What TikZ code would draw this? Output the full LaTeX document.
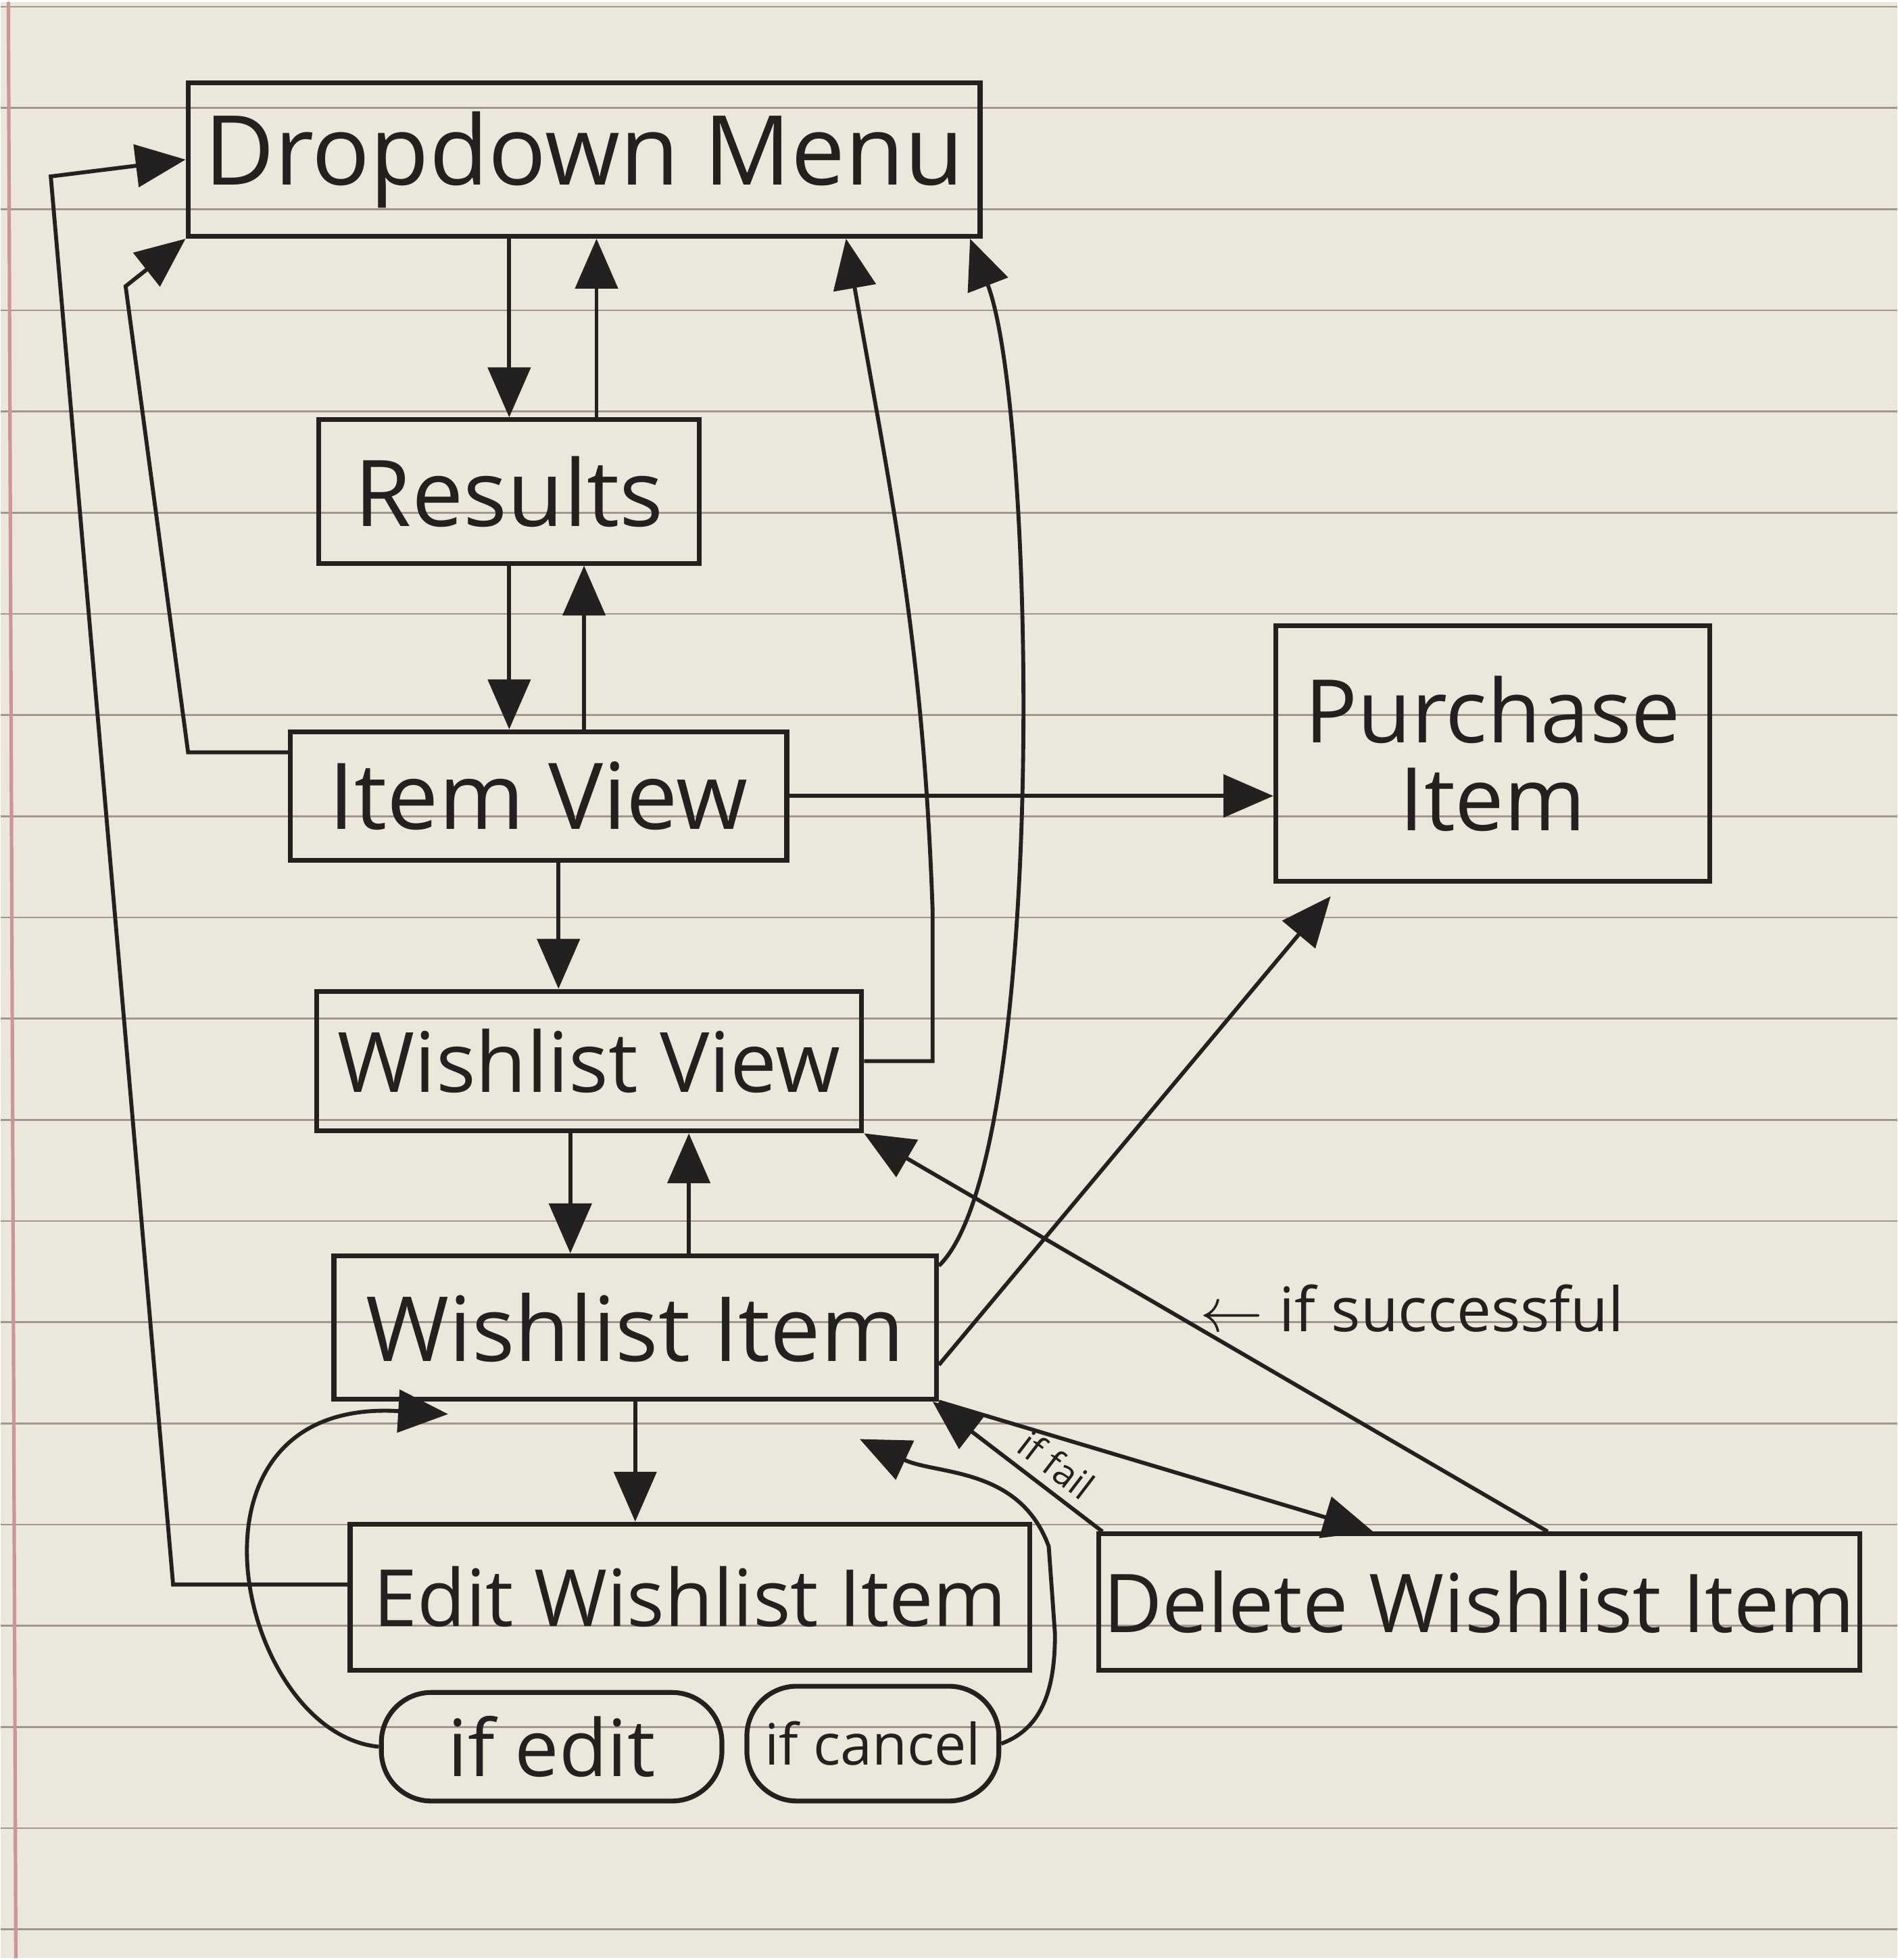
\documentclass[tikz,border=0pt]{standalone}
\usepackage{fontspec}
\setmainfont{Open Sans}
\usetikzlibrary{arrows.meta}

\definecolor{paper}{RGB}{236,231,219}
\definecolor{rule}{RGB}{160,150,145}
\definecolor{margin}{RGB}{205,150,150}
\definecolor{ink}{RGB}{35,32,32}

\begin{document}
\begin{tikzpicture}[
  box/.style={draw=ink, line width=1.1pt, inner sep=0pt, text=ink},
  oval/.style={box, rounded corners=0.4cm},
  txt/.style={font=\fontsize{#1pt}{#1pt}\selectfont},
  arr/.style={draw=ink, line width=0.9pt, -{Triangle[length=4mm,width=3.4mm]}}
]
% lined paper
\fill[paper] (0,0) rectangle (15.2,15.68);
\foreach \k in {0,...,19}
  \draw[rule, line width=0.4pt] (0,15.64-0.811*\k) -- (15.2,15.64-0.811*\k);
\draw[margin, line width=0.8pt] (0.06,15.68) -- (0.12,0);
\useasboundingbox (0,0) rectangle (15.2,15.68);

% screens
\node[box, txt=22, minimum width=6.35cm, minimum height=1.23cm] (drop) at (4.675,14.415) {Dropdown Menu};
\node[box, txt=21, minimum width=3.05cm, minimum height=1.15cm] (results) at (4.075,11.755) {Results};
\node[box, txt=21, minimum width=3.98cm, minimum height=1.03cm] (itemview) at (4.31,9.315) {Item View};
\node[box, txt=20, minimum width=3.48cm, minimum height=2.05cm, align=center] (purchase) at (11.96,9.655) {Purchase\\Item};
\node[box, txt=19, minimum width=4.37cm, minimum height=1.12cm] (wlview) at (4.715,7.19) {Wishlist View};
\node[box, txt=20.5, minimum width=4.83cm, minimum height=1.15cm] (wlitem) at (5.085,5.055) {Wishlist Item};
\node[box, txt=18, minimum width=5.45cm, minimum height=1.17cm] (edit) at (5.525,2.895) {Edit Wishlist Item};
\node[box, txt=18.5, minimum width=6.1cm, minimum height=1.09cm] (delete) at (11.85,2.855) {Delete Wishlist Item};
\node[oval, txt=18, minimum width=2.73cm, minimum height=0.87cm] (ifedit) at (4.415,1.695) {if edit};
\node[oval, txt=13, minimum width=2.02cm, minimum height=0.92cm] (ifcancel) at (6.99,1.72) {if cancel};

% flow
\draw[arr] (drop.south -| results.north) -- (results.north);
\draw[arr] ([xshift=7mm]results.north) -- ([xshift=7mm]results.north |- drop.south);
\draw[arr] (results.south) -- (results.south |- itemview.north);
\draw[arr] ([xshift=6mm]results.south |- itemview.north) -- ([xshift=6mm]results.south);
\draw[arr] ([yshift=3.5mm]itemview.west) -- ++(-0.8,0) -- (1.0,13.4) -- (drop.south west);
\draw[arr] (itemview.east) -- (itemview.east -| purchase.west);
\draw[arr] ([xshift=1.6mm]itemview.south) -- ([xshift=1.6mm]itemview.south |- wlview.north);
\draw[arr] (wlview.east) -- ++(0.55,0) -- ++(0,1.2) to[out=92,in=-80] ([xshift=21mm]drop.south);
\draw[arr] ([xshift=-1.5mm]wlview.south) -- ([xshift=-1.5mm]wlview.south |- wlitem.north);
\draw[arr] ([xshift=8mm]wlview.south |- wlitem.north) -- ([xshift=8mm]wlview.south);
\draw[arr] ([yshift=-1mm]wlitem.north east) .. controls (8.4,6.4) and (8.3,12.4) .. ([xshift=-1mm]drop.south east);
\draw[arr] ([yshift=-3mm]wlitem.east) -- ([xshift=-13mm,yshift=-1mm]purchase.south);
\draw[arr] (wlitem.south) -- (wlitem.south |- edit.north);
\draw[arr] (wlitem.south east) -- ([xshift=-8.5mm]delete.north);
\draw[arr] ([xshift=5.5mm]delete.north) -- node[pos=0.56, anchor=west, xshift=1.5mm, txt=14, text=ink] {$\leftarrow$ if successful} (wlview.south east);
\draw[arr] ([xshift=0.5mm]delete.north west) -- node[pos=0.36, sloped, above=1.5pt, inner sep=0.5pt, txt=8.5, text=ink] {if fail} ([xshift=-0.5mm]wlitem.south east);
\draw[arr] ([yshift=1mm]edit.west) -- ++(-1.4,0) -- (0.4,14.28) -- (drop.west);
\draw[arr] (ifedit.west) .. controls (1.9,1.8) and (1.3,4.5) .. ([xshift=-15mm,yshift=-1mm]wlitem.south);
\draw[arr] (ifcancel.east) to[out=20,in=-90] (8.45,2.6) -- (8.4,3.3) to[out=110,in=-25] ([xshift=18mm,yshift=-3mm]wlitem.south);
\end{tikzpicture}
\end{document}
